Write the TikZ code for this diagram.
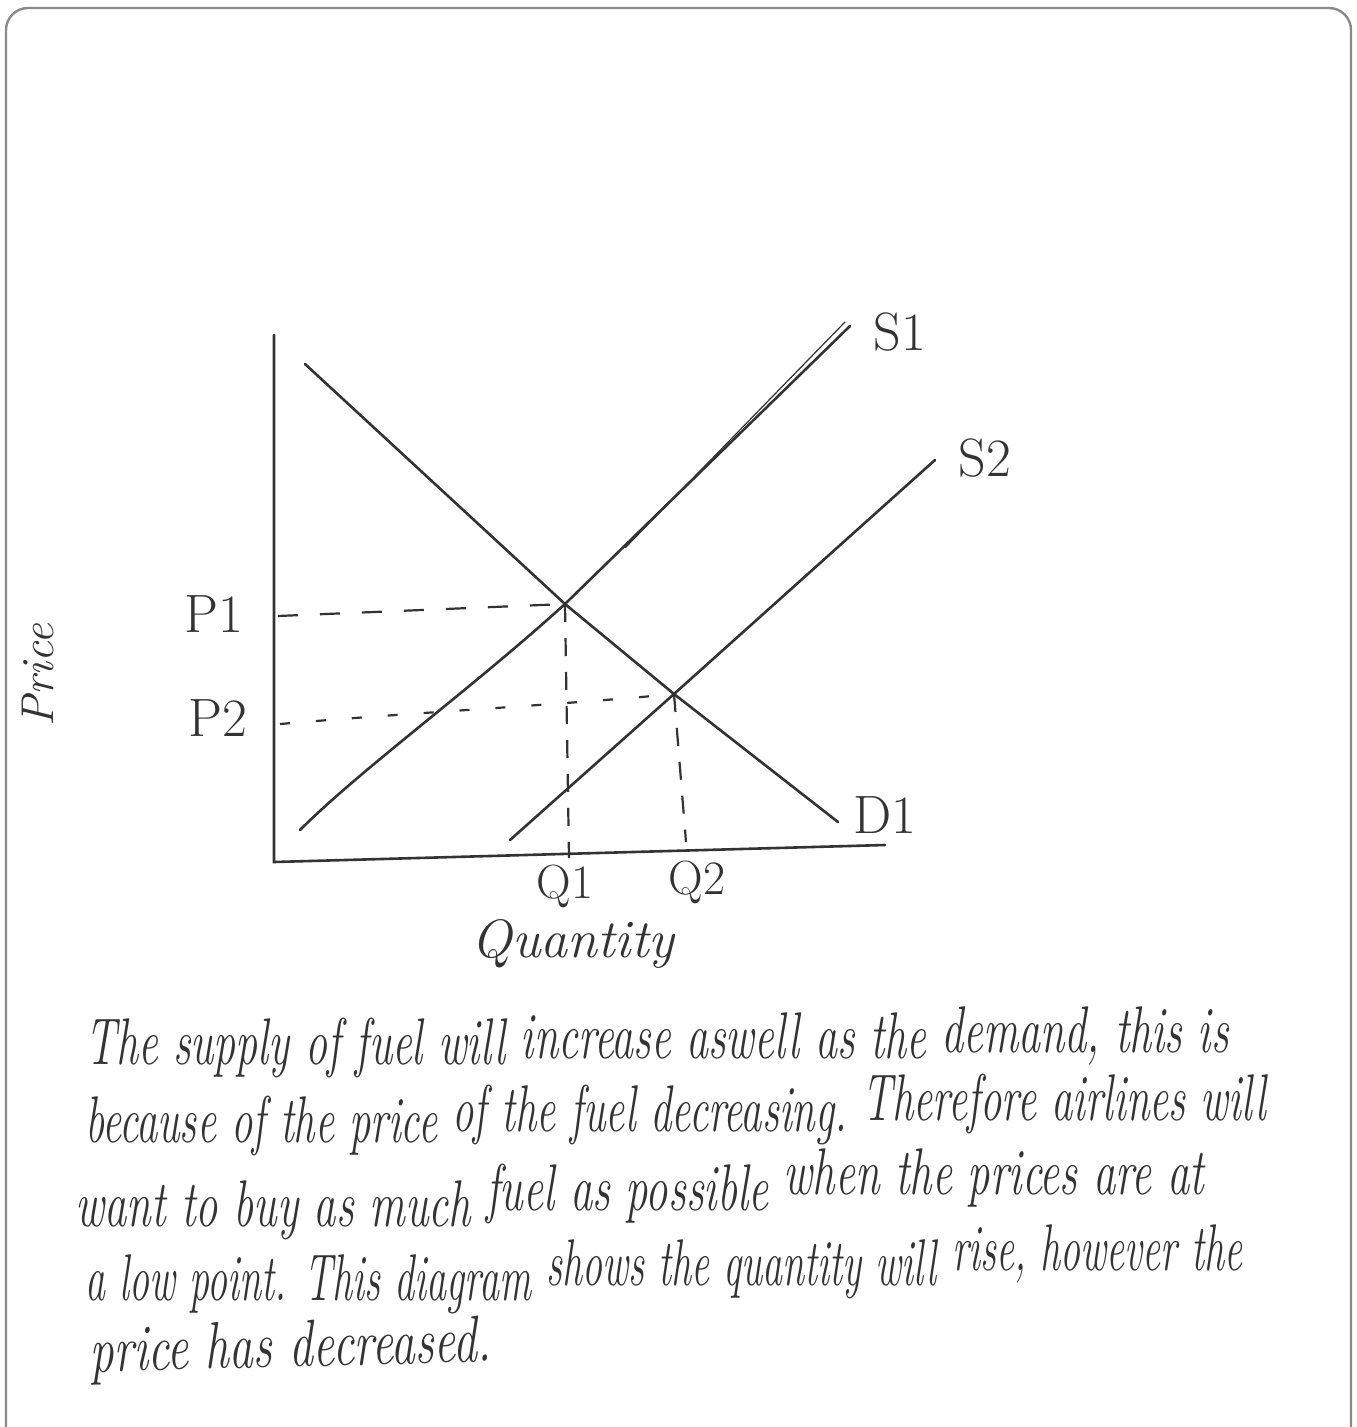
\documentclass[tikz,border=0pt]{standalone}
\usepackage{graphicx}
\definecolor{ink}{HTML}{333333}
\definecolor{framec}{HTML}{8A8A8A}
\newcommand{\hw}[2][1.1]{\scalebox{#1}[1.65]{#2}}
\begin{document}
\begin{tikzpicture}[x=1pt,y=-1pt,
  curve/.style={draw=ink, line width=2.6pt, line cap=round},
  axisline/.style={draw=ink, line width=2.6pt, line cap=round},
  guide/.style={draw=ink, line width=2.2pt, dash pattern=on 20pt off 22pt},
  dotguide/.style={draw=ink, line width=2.2pt, dash pattern=on 10pt off 26pt},
  vguide/.style={draw=ink, line width=2.2pt, dash pattern=on 18pt off 16pt},
  lbl/.style={text=ink, inner sep=0pt, font=\fontsize{54}{58}\selectfont},
  body/.style={text=ink, inner sep=0pt, anchor=base west, font=\fontsize{40}{48}\selectfont\itshape},
  framebox/.style={draw=framec, line width=2.4pt, rounded corners=22pt}]
\useasboundingbox (0,0) rectangle (1357,1427);
\clip (0,0) rectangle (1357,1427);
% frame
\draw[framebox] (6,1460) -- (6,8) -- (1351,8) -- (1351,1460);
% coordinates
\coordinate (O) at (274,862);
\coordinate (Ytop) at (274,335);
\coordinate (Xend) at (885,845);
\coordinate (E1) at (565,604);
\coordinate (E2) at (674,694);
\coordinate (Dtop) at (305,364);
\coordinate (Dend) at (838,822);
\coordinate (S1a) at (300,830);
\coordinate (S1b) at (850,326);
\coordinate (S2a) at (510,840);
\coordinate (S2b) at (935,460);
\coordinate (P1a) at (278,616);
\coordinate (P2a) at (280,724);
\coordinate (Q1b) at (569,858);
\coordinate (Q2b) at (686,842);
% axes
\draw[axisline] (Ytop) -- (O) -- (Xend);
% demand
\draw[curve] (Dtop) -- (E1) -- (E2) -- (Dend);
% supply 1 (with faint double stroke near the top)
\draw[curve] (S1a) .. controls (360,770) and (470,690) .. (E1) -- (S1b);
\draw[draw=ink, line width=1.2pt] (625,548) -- (845,322);
% supply 2
\draw[curve] (S2a) -- (E2) -- (S2b);
% guides
\draw[guide] (P1a) -- (E1);
\draw[dotguide] (P2a) .. controls (420,712) and (560,705) .. (E2);
\draw[vguide] (E1) -- (Q1b);
\draw[vguide] (E2) -- (Q2b);
% labels
\node[lbl] (p1) at (214,614) {P1};
\node[lbl] (p2) at (218,718) {P2};
\node[lbl] (s1) at (900,332) {S1};
\node[lbl] (s2) at (985,458) {S2};
\node[lbl] (d1) at (885,815) {D1};
\node[lbl, font=\fontsize{48}{52}\selectfont] (q1) at (565,886) {Q1};
\node[lbl, font=\fontsize{48}{52}\selectfont] (q2) at (697,882) {Q2};
\node[lbl, font=\fontsize{54}{58}\selectfont\itshape] (qty) at (573,944) {Quantity};
\node[lbl, font=\fontsize{46}{50}\selectfont\itshape, rotate=90] (price) at (38,675) {Price};
% explanation text (each handwritten line in rising pieces)
\node[body] (t1a) at (85,1064) {\hw{The supply of fuel will}};
\node[body] (t1b) at ([xshift=15pt,yshift=6pt]t1a.base east) {\hw{increase aswell as the}};
\node[body] (t1c) at ([xshift=15pt,yshift=6pt]t1b.base east) {\hw{demand, this is}};
\node[body] (t2a) at (85,1142) {\hw[1.065]{because of the price}};
\node[body] (t2b) at ([xshift=15pt,yshift=11pt]t2a.base east) {\hw[1.065]{of the fuel decreasing.}};
\node[body] (t2c) at ([xshift=15pt,yshift=11pt]t2b.base east) {\hw[1.065]{Therefore airlines will}};
\node[body] (t3a) at (75,1226) {\hw[1.115]{want to buy as much}};
\node[body] (t3b) at ([xshift=15pt,yshift=16pt]t3a.base east) {\hw[1.115]{fuel as possible}};
\node[body] (t3c) at ([xshift=15pt,yshift=16pt]t3b.base east) {\hw[1.115]{when the prices are at}};
\node[body] (t4a) at (85,1300) {\hw[1.0]{a low point. This diagram}};
\node[body] (t4b) at ([xshift=15pt,yshift=15pt]t4a.base east) {\hw[1.0]{shows the quantity will}};
\node[body] (t4c) at ([xshift=15pt,yshift=15pt]t4b.base east) {\hw[1.0]{rise, however the}};
\node[body, rotate=1.5] (t5) at (90,1372) {\hw[1.2]{price has decreased.}};
\end{tikzpicture}
\end{document}
